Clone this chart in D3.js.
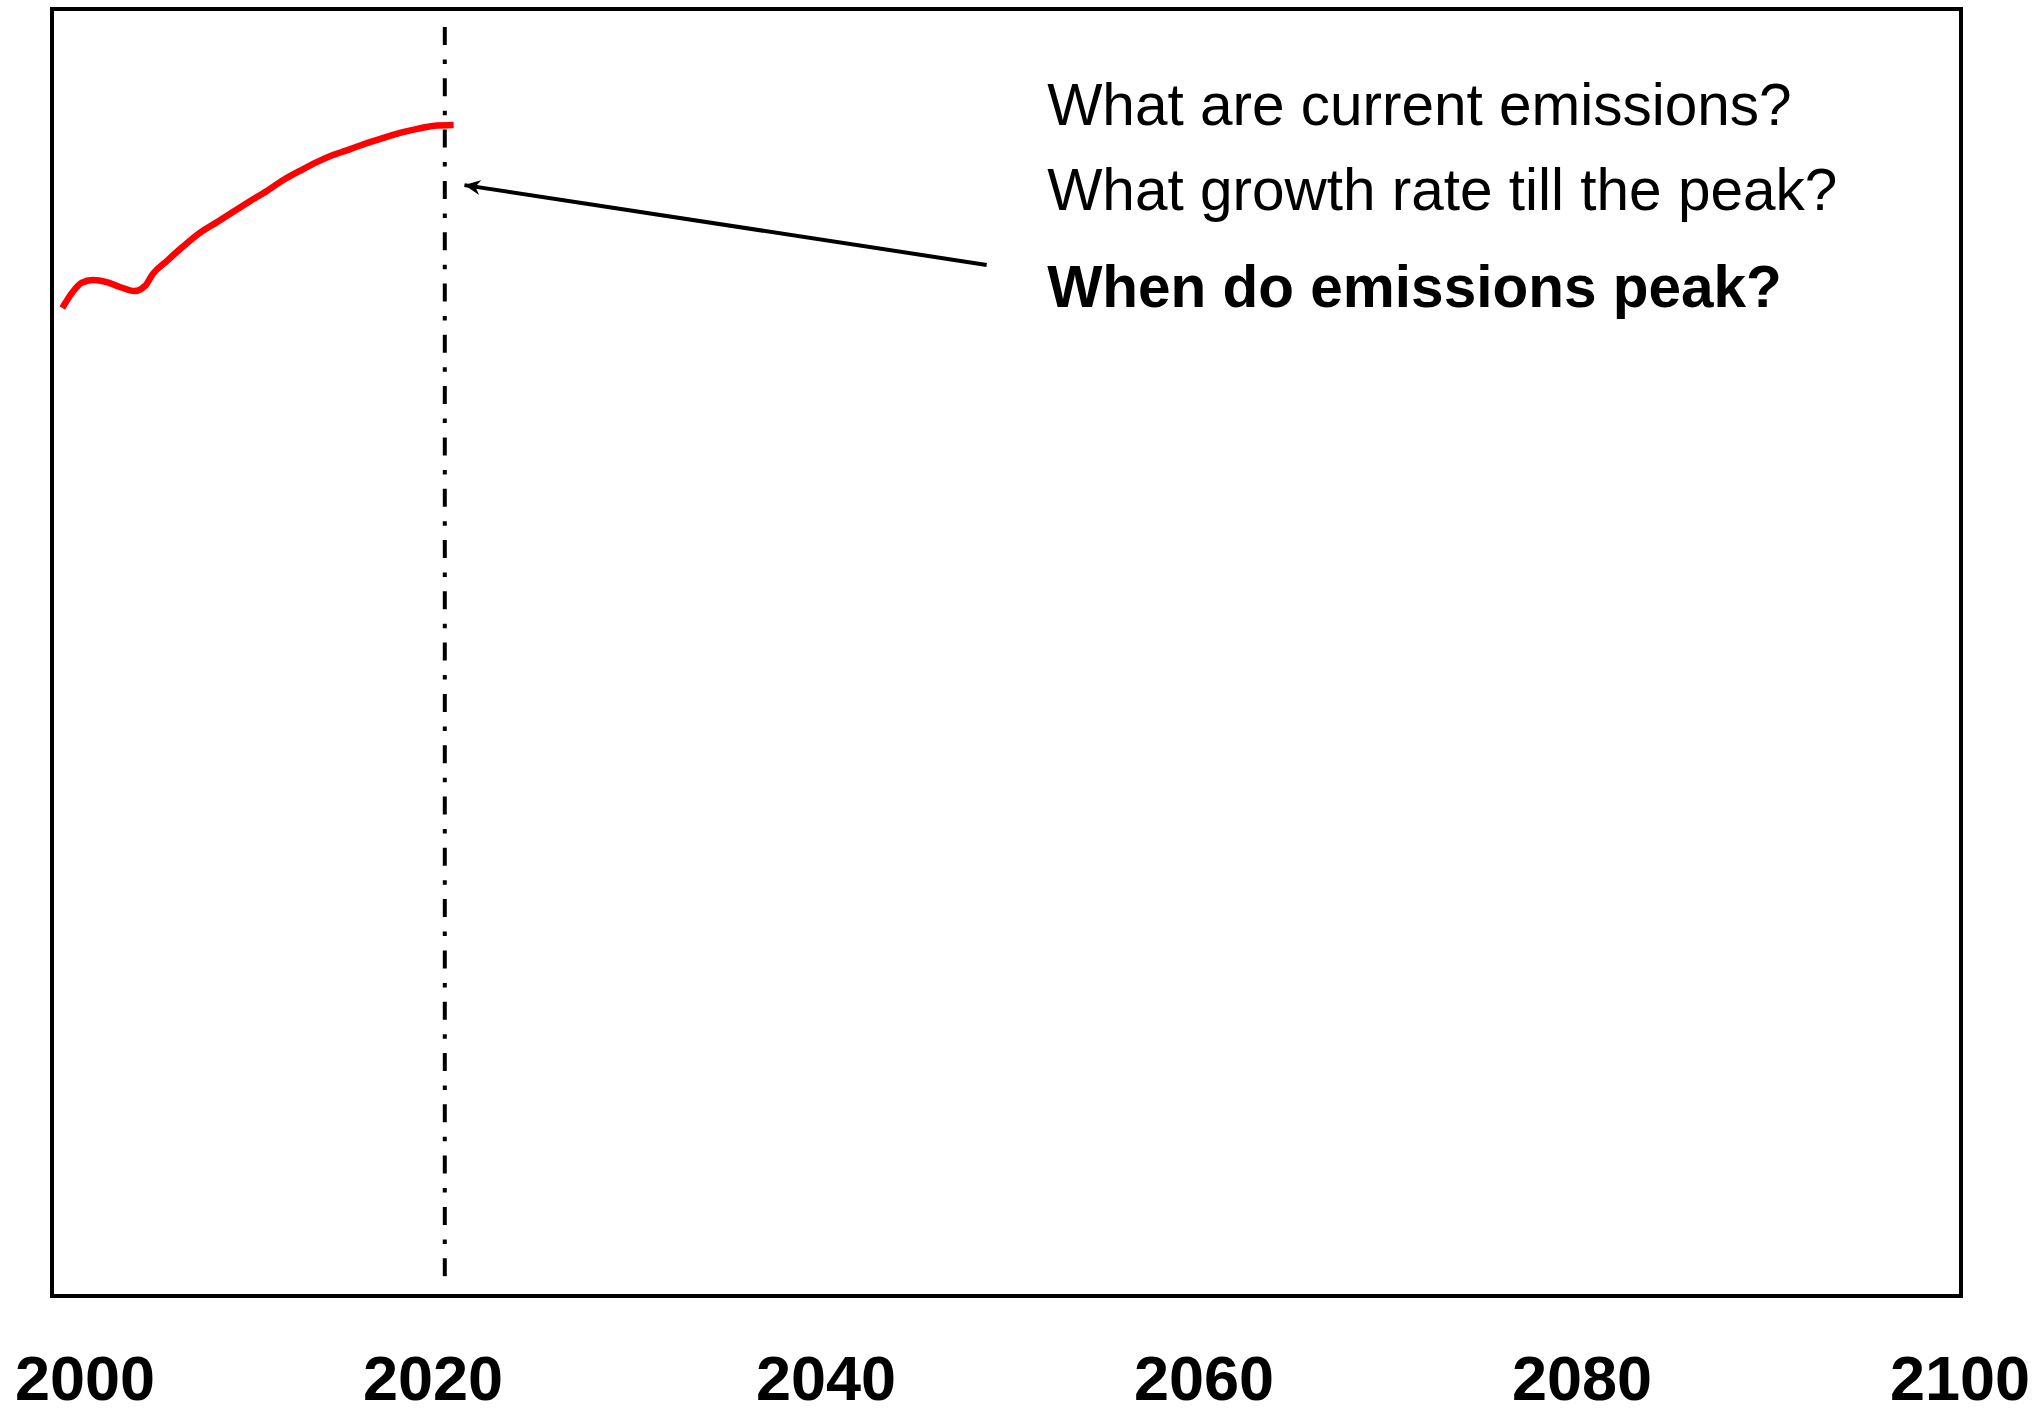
<!DOCTYPE html>
<html>
<head>
<meta charset="utf-8">
<script src="https://cdn.jsdelivr.net/npm/d3@7"></script>
<style>
  html, body { margin: 0; padding: 0; background: #fff; }
  svg { display: block; font-family: "Liberation Sans", Arial, sans-serif; }
</style>
</head>
<body>
<svg id="chart"></svg>
<script>
var width = 2037,
    height = 1408;

// x ticks shown under the frame
var tickYears = [2000, 2020, 2040, 2060, 2080, 2100];

// historical emissions (GtCO2e)
var years = [1998.7, 1999.25, 1999.8, 2000.45, 2001.25, 2002.0, 2002.85, 2003.45, 2003.9, 2004.7,
             2005.6, 2006.6, 2007.6, 2008.5, 2009.5, 2010.45, 2011.4, 2012.35, 2013.35, 2014.25,
             2015.25, 2016.2, 2017.15, 2018.1, 2019.1, 2020.0, 2021.05];
var emissions = [46.06, 46.76, 47.23, 47.37, 47.27, 47.04, 46.85, 47.09, 47.65, 48.25,
                 48.90, 49.56, 50.07, 50.54, 51.05, 51.52, 52.03, 52.45, 52.87, 53.19,
                 53.47, 53.75, 53.99, 54.22, 54.41, 54.55, 54.59];

// where the dash-dot "today / peak" line sits
var peakYear = 2020.6;

// questions on the right, bold = the one the arrow points from
var questions = ["What are current emissions?", "What growth rate till the peak?", "When do emissions peak?"];
var questionValues = [54.59, 50.63, 46.11];
var questionBold = [false, false, true];
var questionYear = 2051.7;

// arrow annotation (from year/value to year/value)
var arrowFrom = [2048.5, 48.07];
var arrowTo = [2021.6, 51.79];

// frame box
var frame = { left: 52, top: 9, right: 1961, bottom: 1296 };

// the slide spaces its year labels unevenly, so the scale is piecewise
var x = d3.scaleLinear()
    .domain(tickYears)
    .range([85, 433, 826, 1204, 1582, 1960]);

var y = d3.scaleLinear()
    .domain([0, 60])
    .range([frame.bottom, frame.top]);

var svg = d3.select("#chart")
    .attr("width", width)
    .attr("height", height);

svg.append("defs").append("marker")
    .attr("id", "arrowhead")
    .attr("viewBox", "-16 -8 17 16")
    .attr("markerUnits", "userSpaceOnUse")
    .attr("markerWidth", 17)
    .attr("markerHeight", 16)
    .attr("refX", 0)
    .attr("refY", 0)
    .attr("orient", "auto")
    .append("path")
    .attr("d", "M0,0 L-16,-7.5 L-11,0 L-16,7.5 Z")
    .attr("fill", "#000");

// frame
svg.append("rect")
    .attr("x", frame.left)
    .attr("y", frame.top)
    .attr("width", frame.right - frame.left)
    .attr("height", frame.bottom - frame.top)
    .attr("fill", "none")
    .attr("stroke", "#000")
    .attr("stroke-width", 4);

// dash-dot vertical line
svg.append("line")
    .attr("x1", x(peakYear))
    .attr("x2", x(peakYear))
    .attr("y1", frame.top + 18)
    .attr("y2", frame.bottom - 19)
    .attr("stroke", "#000")
    .attr("stroke-width", 4)
    .attr("stroke-dasharray", "18 14.5 4.5 14.3");

// red history curve
var line = d3.line()
    .x(function (d, i) { return x(years[i]); })
    .y(function (d) { return y(d); })
    .curve(d3.curveMonotoneX);

svg.append("path")
    .datum(emissions)
    .attr("d", line)
    .attr("fill", "none")
    .attr("stroke", "#ff0000")
    .attr("stroke-width", 6.5);

// arrow
svg.append("line")
    .attr("x1", x(arrowFrom[0]))
    .attr("y1", y(arrowFrom[1]))
    .attr("x2", x(arrowTo[0]))
    .attr("y2", y(arrowTo[1]))
    .attr("stroke", "#000")
    .attr("stroke-width", 4)
    .attr("marker-end", "url(#arrowhead)");

// questions
svg.append("g")
    .selectAll("text")
    .data(questions)
    .join("text")
    .attr("x", x(questionYear))
    .attr("y", function (d, i) { return y(questionValues[i]); })
    .attr("font-size", 58.5)
    .attr("font-weight", function (d, i) { return questionBold[i] ? "bold" : "normal"; })
    .attr("fill", "#000")
    .text(function (d) { return d; });

// year labels
svg.append("g")
    .selectAll("text")
    .data(tickYears)
    .join("text")
    .attr("x", function (d) { return x(d); })
    .attr("y", 1400)
    .attr("text-anchor", "middle")
    .attr("font-size", 63)
    .attr("font-weight", "bold")
    .attr("fill", "#000")
    .text(function (d) { return d; });
</script>
</body>
</html>
